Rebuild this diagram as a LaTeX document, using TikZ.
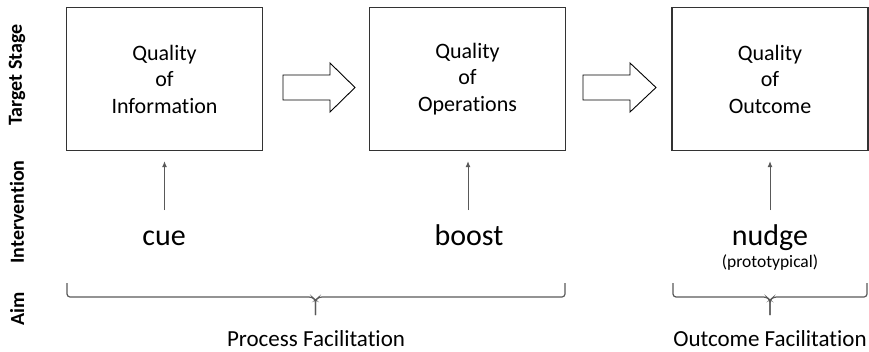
\documentclass[tikz,border=0pt]{standalone}
\usepackage{fontspec}
\setmainfont[Ligatures={NoCommon}]{Carlito}
\usetikzlibrary{arrows.meta}
\begin{document}
\begin{tikzpicture}[x=1pt,y=-1pt,
  stagebox/.style={draw=black!80,line width=1.3pt,minimum width=196pt,minimum height=143pt,inner sep=0pt,align=center,font=\fontsize{22}{26.5}\selectfont},
  bigarrow/.style={draw=black,line width=0.9pt,fill=white},
  upline/.style={draw=black!65,line width=1pt,-{Latex[length=6pt,width=5pt]}},
  intertext/.style={font=\fontsize{30}{34}\selectfont,inner sep=0pt,anchor=base},
  bracepath/.style={draw=black!65,line width=1.2pt,rounded corners=3pt},
  rowlabel/.style={rotate=90,font=\fontsize{20}{24}\selectfont\bfseries,inner sep=0pt},
  aimtext/.style={font=\fontsize{23}{27}\selectfont,inner sep=0pt,anchor=base}]
\useasboundingbox (0,0) rectangle (869,351);
% boxes
\node[stagebox] (b1) at (164.5,79) {Quality\\of\\Information};
\node[stagebox] (b2) at (467.5,79) {Quality\\of\\Operations};
\node[stagebox] (b3) at (770,79) {Quality\\of\\Outcome};
% block arrows
\draw[bigarrow] (283,75) -- (330,75) -- (330,63) -- (355,87.5) -- (330,112) -- (330,100) -- (283,100) -- cycle;
\draw[bigarrow] (583,75) -- (630,75) -- (630,63) -- (656,87.5) -- (630,112) -- (630,100) -- (583,100) -- cycle;
% interventions
\node[intertext] (cue) at (164,245) {cue};
\node[intertext] (boost) at (469,245) {boost};
\node[intertext] (nudge) at (770,245) {nudge};
\node[inner sep=0pt,anchor=base,font=\fontsize{17.5}{20}\selectfont] (proto) at (770,267) {(prototypical)};
\coordinate (c1) at (164.5,210);
\coordinate (c2) at (468,210);
\coordinate (c3) at (770,210);
\draw[upline] (c1) -- ([yshift=-10pt]b1.south -| c1);
\draw[upline] (c2) -- ([yshift=-10pt]b2.south -| c2);
\draw[upline] (c3) -- ([yshift=-10pt]b3.south -| c3);
% braces
\draw[bracepath] (67,283) -- (67,297) -- (312,297) -- (315.5,300) -- (315.5,315);
\draw[bracepath] (315.5,315) -- (315.5,300) -- (319,297) -- (565,297) -- (565,283);
\draw[bracepath] (673,283) -- (673,297) -- (766.5,297) -- (770,300) -- (770,315);
\draw[bracepath] (770,315) -- (770,300) -- (773.5,297) -- (867,297) -- (867,283);
\node[aimtext] (pf) at (316,346) {Process Facilitation};
\node[aimtext] (of) at (770,346) {Outcome Facilitation};
% row labels
\node[rowlabel] (rl1) at (17,75) {Target Stage};
\node[rowlabel] (rl2) at (17,212) {Intervention};
\node[rowlabel] (rl3) at (17,309) {Aim};
\end{tikzpicture}
\end{document}
